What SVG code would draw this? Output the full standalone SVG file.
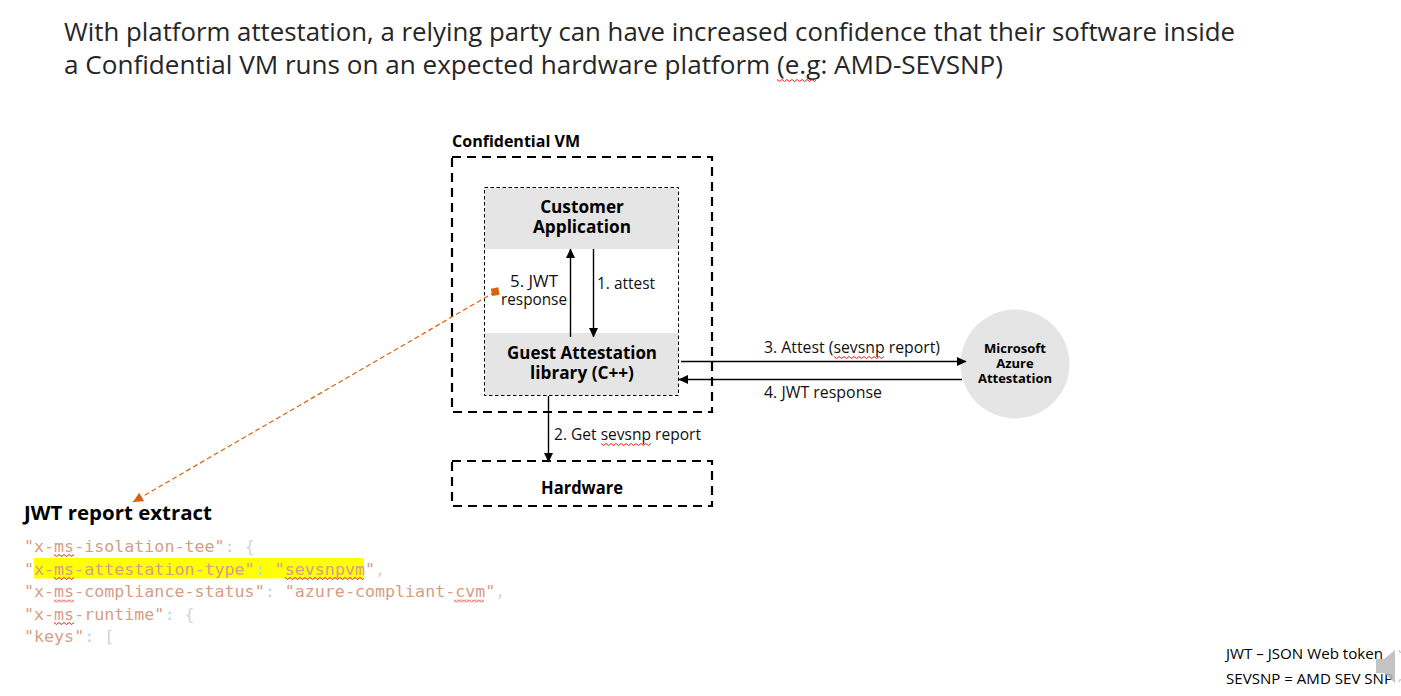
<svg xmlns="http://www.w3.org/2000/svg" width="1401" height="696" viewBox="0 0 1401 696">
<style>
text{font-family:"Open Sans","Noto Sans","Liberation Sans",sans-serif;fill:#000}
.title{font-size:26px;fill:#262626}
.b{font-weight:700;font-size:17.2px;text-anchor:middle}
.l{font-size:15.5px;fill:#111}
.mono{font-family:"DejaVu Sans Mono","Liberation Mono",monospace;font-size:16.66px;fill:#d69e85}
.p{fill:#a9d9ef}
.br{fill:#d4d4d4}
.outer{fill:none;stroke:#000;stroke-width:2.2;stroke-dasharray:9 6}
.inner{fill:none;stroke:#000;stroke-width:1;stroke-dasharray:3.5 2.5}
.g{fill:#e5e5e5}
.c{fill:none;stroke:#000;stroke-width:1.4}
.sq{fill:url(#wave);height:3px}
</style>
<defs>
<marker id="a" markerWidth="10" markerHeight="10" refX="9" refY="4.5" orient="auto" markerUnits="userSpaceOnUse"><path d="M0 0L9.500 4.500L0 9Z" fill="#000"/></marker>
<marker id="o" markerWidth="12" markerHeight="12" refX="10" refY="5" orient="auto" markerUnits="userSpaceOnUse"><path d="M0 0L10 5L0 10Z" fill="#d9620f"/></marker>
<pattern id="wave" width="5" height="3" patternUnits="userSpaceOnUse"><path d="M0 .5L2.500 2.500L5 .5" fill="none" stroke="#e0201c" stroke-width="1"/></pattern>
</defs>
<rect width="1401" height="696" fill="#fff"/>

<g id="title">
<text class="title" x="64" y="41" textLength="1171" lengthAdjust="spacingAndGlyphs">With platform attestation, a relying party can have increased confidence that their software inside</text>
<text class="title" x="64" y="74" textLength="939" lengthAdjust="spacingAndGlyphs">a Confidential VM runs on an expected hardware platform (e.g: AMD-SEVSNP)</text>
<rect class="sq" width="39" height="3" transform="translate(777 79)"/>
</g>

<g id="confidential-vm">
<text x="452" y="147" font-size="16.500" font-weight="700" textLength="128" lengthAdjust="spacingAndGlyphs">Confidential VM</text>
<rect class="outer" x="452" y="157" width="260" height="255"/>
</g>

<g id="inner-box"><rect class="inner" x="484.500" y="187.500" width="194" height="208"/></g>

<g id="customer-application">
<rect class="g" x="485" y="188" width="193" height="61"/>
<text class="b" x="582" y="213">Customer</text>
<text class="b" x="582" y="233">Application</text>
</g>

<g id="guest-attestation">
<rect class="g" x="485" y="333" width="193" height="62"/>
<text class="b" x="582" y="359" textLength="150" lengthAdjust="spacingAndGlyphs">Guest Attestation</text>
<text class="b" x="582" y="379">library (C++)</text>
</g>

<g id="azure-attestation">
<circle class="g" cx="1015" cy="364" r="54.500"/>
<text x="1015" y="353" font-size="13" font-weight="700" text-anchor="middle">Microsoft</text>
<text x="1015" y="368" font-size="13" font-weight="700" text-anchor="middle">Azure</text>
<text x="1015" y="383" font-size="13" font-weight="700" text-anchor="middle">Attestation</text>
</g>

<g id="hardware">
<rect class="outer" x="452" y="461" width="260" height="45"/>
<text class="b" x="582" y="494" textLength="82" lengthAdjust="spacingAndGlyphs">Hardware</text>
</g>

<g id="connectors">
<path class="c" d="M570.500 337V249" marker-end="url(#a)"/>
<path class="c" d="M593.500 249V337" marker-end="url(#a)"/>
<path class="c" d="M681 361.500H966" marker-end="url(#a)"/>
<path class="c" d="M962 379.500H679" marker-end="url(#a)"/>
<path class="c" d="M548.500 396V462" marker-end="url(#a)"/>
<path d="M495 292L133 502" fill="none" stroke="#d9620f" stroke-width="1.200" stroke-dasharray="5 3" marker-end="url(#o)"/>
<rect x="491.500" y="288" width="7.500" height="7.500" fill="#d9620f" transform="rotate(-10 495 292)"/>
</g>

<g id="labels">
<text class="l" x="510" y="287" textLength="48" lengthAdjust="spacingAndGlyphs">5. JWT</text>
<text class="l" x="501" y="305" textLength="66" lengthAdjust="spacingAndGlyphs">response</text>
<text class="l" x="597" y="289" textLength="58" lengthAdjust="spacingAndGlyphs">1. attest</text>
<text class="l" x="764" y="353" textLength="176" lengthAdjust="spacingAndGlyphs">3. Attest (sevsnp report)</text>
<rect class="sq" width="50" height="3" transform="translate(834 356)"/>
<text class="l" x="764" y="398" textLength="118" lengthAdjust="spacingAndGlyphs">4. JWT response</text>
<text class="l" x="554" y="440" textLength="147" lengthAdjust="spacingAndGlyphs">2. Get sevsnp report</text>
<rect class="sq" width="50" height="3" transform="translate(601 443)"/>
</g>

<g id="jwt-report">
<text x="24" y="520" font-size="20" font-weight="700" textLength="188" lengthAdjust="spacingAndGlyphs">JWT report extract</text>
<rect x="34" y="558" width="330" height="20.500" fill="#ffff00"/>
<text class="mono" x="24" y="552">"x-ms-isolation-tee"<tspan class="p">: </tspan><tspan class="br">{</tspan></text>
<text class="mono" x="24" y="575">"x-ms-attestation-type"<tspan class="p">: </tspan>"sevsnpvm"<tspan class="br">,</tspan></text>
<text class="mono" x="24" y="597">"x-ms-compliance-status"<tspan class="p">: </tspan>"azure-compliant-cvm"<tspan class="br">,</tspan></text>
<text class="mono" x="24" y="620">"x-ms-runtime"<tspan class="p">: </tspan><tspan class="br">{</tspan></text>
<text class="mono" x="24" y="642">"keys"<tspan class="p">: </tspan><tspan class="br">[</tspan></text>
<rect class="sq" width="20" height="3" transform="translate(54 554)"/>
<rect class="sq" width="20" height="3" transform="translate(54 577)"/>
<rect class="sq" width="79" height="3" transform="translate(285 577)"/>
<rect class="sq" width="20" height="3" transform="translate(54 599.500)"/>
<rect class="sq" width="30" height="3" transform="translate(454 599.500)"/>
<rect class="sq" width="20" height="3" transform="translate(54 622)"/>
</g>

<g id="notes">
<text x="1226" y="659" font-size="14.500" fill="#111" textLength="157" lengthAdjust="spacingAndGlyphs">JWT – JSON Web token</text>
<text x="1226" y="684" font-size="14.500" fill="#111" textLength="167" lengthAdjust="spacingAndGlyphs">SEVSNP = AMD SEV SNP</text>
<path d="M1376 659H1384L1395 650V683L1384 673H1376Z" fill="#b8b8b8" opacity=".85"/>
<path d="M1399 650l1.500 3M1399 682l1.500-3" fill="none" stroke="#c8c8c8" stroke-width="1.500"/>
</g>
</svg>
